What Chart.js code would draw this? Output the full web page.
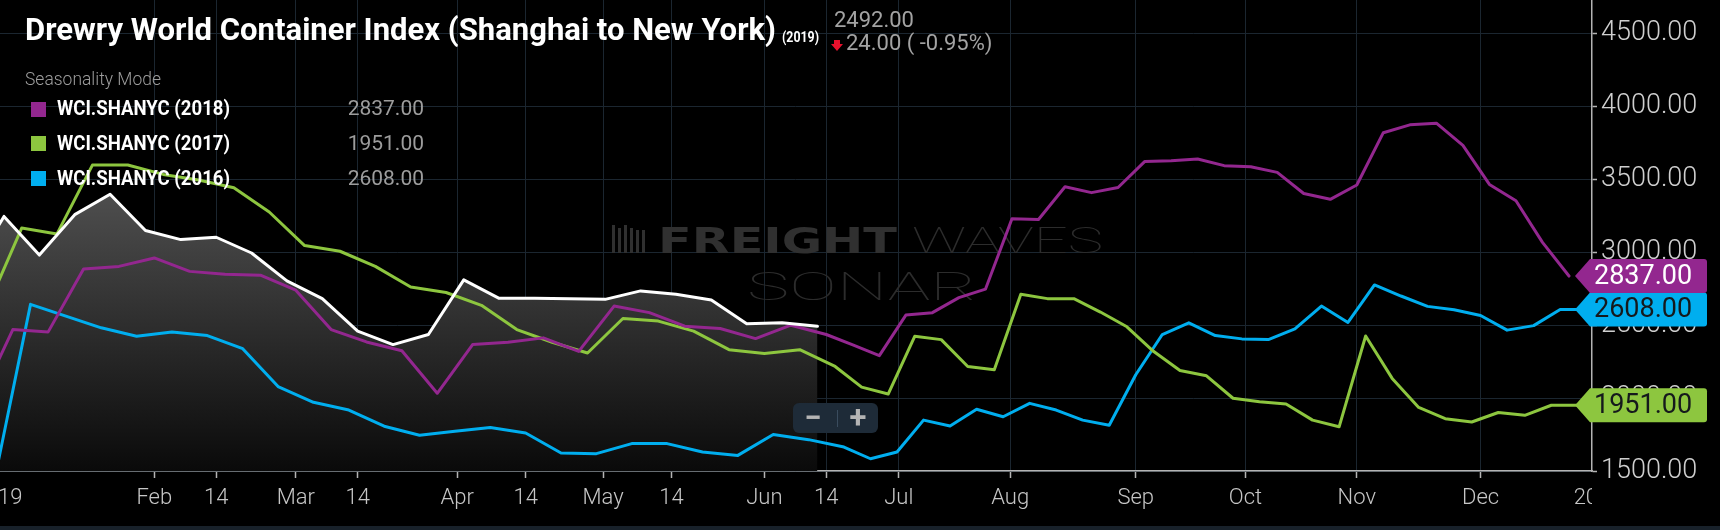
<!DOCTYPE html>
<html>
<head>
<meta charset="utf-8">
<script src="https://cdn.jsdelivr.net/npm/chart.js@4.4.1/dist/chart.umd.min.js"></script>
<style>
  html, body { margin: 0; padding: 0; background: #000; }
  #wrap { position: relative; width: 1720px; height: 530px; overflow: hidden; background: #000; }
  #c { position: absolute; left: 0; top: 0; }
  .txt { position: absolute; white-space: nowrap; line-height: 1; transform-origin: 0 0; font-family: Roboto, "Noto Sans", sans-serif; }
  .sw { position: absolute; width: 15px; height: 15px; }
  #zoom { position: absolute; left: 793px; top: 403px; width: 85px; height: 30px; background: #1e2b38; border-radius: 6px; }
  #zoom span { position: absolute; top: 0; width: 40px; text-align: center; color: #b4b4b4; font: 700 31px Roboto, sans-serif; line-height: 29px; }
  #zoom i { position: absolute; left: 44px; top: 7px; width: 1px; height: 17px; background: #3a4c5e; }
  #strip { position: absolute; left: 0; top: 526px; width: 1720px; height: 4px; background: #18212a; }
</style>
</head>
<body>
<div id="wrap">
  <canvas id="c" width="1720" height="530"></canvas>

  <div class="txt" data-x="25" data-b="40" data-fs="32" data-w="751" style="font-weight:700;color:#fff">Drewry World Container Index (Shanghai to New York)</div>
  <div class="txt" data-x="782" data-b="43" data-fs="15" data-w="37" style="font-weight:700;color:#fff">(2019)</div>
  <div class="txt" data-x="834" data-b="28" data-fs="22" style="color:#a3a3a3">2492.00</div>
  <svg style="position:absolute;left:831px;top:40px" width="12" height="11"><polygon points="3,0 9,0 9,4 12,4 6,11 0,4 3,4" fill="#e8112d"/></svg>
  <div class="txt" data-x="846" data-b="51" data-fs="22" style="color:#a3a3a3">24.00 ( -0.95%)</div>

  <div class="txt" data-x="25" data-b="86" data-fs="18.5" data-w="136" style="font-weight:300;color:#9d9d9d">Seasonality Mode</div>

  <div class="sw" style="left:31px;top:101.5px;background:#93278f"></div>
  <div class="txt" data-x="56.7" data-b="115.3" data-fs="21" data-w="173" style="font-weight:700;color:#fff">WCI.SHANYC (2018)</div>
  <div class="txt" data-r="424" data-b="115.3" data-fs="21" style="color:#9d9d9d">2837.00</div>

  <div class="sw" style="left:31px;top:136px;background:#8dc63f"></div>
  <div class="txt" data-x="56.7" data-b="150.2" data-fs="21" data-w="173" style="font-weight:700;color:#fff">WCI.SHANYC (2017)</div>
  <div class="txt" data-r="424" data-b="150.2" data-fs="21" style="color:#9d9d9d">1951.00</div>

  <div class="sw" style="left:31px;top:171px;background:#00aeef"></div>
  <div class="txt" data-x="56.7" data-b="185.2" data-fs="21" data-w="173" style="font-weight:700;color:#fff">WCI.SHANYC (2016)</div>
  <div class="txt" data-r="424" data-b="185.2" data-fs="21" style="color:#9d9d9d">2608.00</div>

  <div id="zoom"><span style="left:0">−</span><i></i><span style="left:45px">+</span></div>
  <div id="strip"></div>
</div>

<script>
// weekly WCI Shanghai -> New York, USD per 40ft, seasonality overlay on the 2019 calendar
// first entry of each series is the last release of the year before
const VAL_2019 = [2837,
  3246, 2981, 3258, 3398, 3149, 3087, 3103, 2995, 2804, 2682, 2459, 2367,
  2436, 2811, 2684, 2684, 2682, 2677, 2735, 2712, 2673, 2510, 2516, 2492];

const VAL_2018 = [1951,
  2470, 2454, 2885, 2903, 2961, 2869, 2850, 2843, 2740, 2470, 2385, 2325, 2033,
  2367, 2383, 2413, 2320, 2631, 2586, 2493, 2477, 2408, 2500, 2436, 2365, 2291,
  2569, 2586, 2689, 2747, 3230, 3225, 3449, 3409, 3444, 3622, 3628, 3640, 3594,
  3587, 3548, 3403, 3363, 3461, 3820, 3874, 3885, 3733, 3465, 3353, 3068, 2837];

const VAL_2017 = [2608,
  3166, 3126, 3598, 3598, 3534, 3495, 3442, 3276, 3046, 3007, 2903, 2762, 2724,
  2636, 2470, 2383, 2309, 2546, 2528, 2459, 2332, 2305, 2332, 2217, 2075, 2028,
  2424, 2401, 2217, 2194, 2712, 2682, 2682, 2590, 2489, 2321, 2189, 2153, 1999,
  1975, 1959, 1849, 1803, 2426, 2135, 1936, 1859, 1836, 1901, 1882, 1951, 1951];

const VAL_2016 = [1460,
  2643, 2562, 2482, 2424, 2454, 2429, 2339, 2079, 1971, 1918, 1807, 1745, 1773,
  1798, 1761, 1623, 1619, 1688, 1688, 1630, 1607, 1750, 1715, 1664, 1584, 1630,
  1849, 1809, 1923, 1872, 1964, 1918, 1849, 1814, 2160, 2436, 2516, 2429, 2406,
  2401, 2475, 2631, 2519, 2776, 2700, 2629, 2606, 2566, 2466, 2497, 2608, 2608];

// first release date of each series (y, m, d) and how many years it is shifted forward
const START_2019 = [2018, 12, 27, 0];
const START_2018 = [2017, 12, 28, 1];
const START_2017 = [2016, 12, 29, 2];
const START_2016 = [2015, 12, 31, 3];

const TICK_DATES = ['2019-01-01', '2019-02-01', '2019-02-14', '2019-03-01', '2019-03-14',
  '2019-04-01', '2019-04-14', '2019-05-01', '2019-05-14', '2019-06-01', '2019-06-14',
  '2019-07-01', '2019-08-01', '2019-09-01', '2019-10-01', '2019-11-01', '2019-12-01', '2020-01-01'];
const TICK_LABELS = ['2019', 'Feb', '14', 'Mar', '14', 'Apr', '14', 'May', '14', 'Jun', '14',
  'Jul', 'Aug', 'Sep', 'Oct', 'Nov', 'Dec', '2020'];

const Y_TICKS = [1500, 2000, 2500, 3000, 3500, 4000, 4500];

const PURPLE = '#93278f', GREEN = '#8dc63f', BLUE = '#00aeef';
const GRID = '#1b2630', AXIS = '#b4b4b4';

// ---- place the html texts by baseline
document.querySelectorAll('.txt').forEach((el) => {
  const fs = parseFloat(el.dataset.fs);
  el.style.fontSize = fs + 'px';
  el.style.top = (parseFloat(el.dataset.b) - 0.842 * fs) + 'px';
  const w = el.getBoundingClientRect().width;
  if (el.dataset.w) el.style.transform = 'scaleX(' + (parseFloat(el.dataset.w) / w) + ')';
  el.style.left = (el.dataset.r ? parseFloat(el.dataset.r) - w : parseFloat(el.dataset.x)) + 'px';
});

// ---- ordinal x axis: every release date of every series is one equally spaced slot
const DAY = 86400000;
function releases(start, n) {
  const [y, m, d, shift] = start;
  const out = [];
  for (let i = 0; i < n; i++) {
    const t = new Date(Date.UTC(y, m - 1, d + 7 * i));
    out.push(Date.UTC(t.getUTCFullYear() + shift, t.getUTCMonth(), t.getUTCDate()));
  }
  return out;
}
const D2019 = releases(START_2019, VAL_2019.length);
const D2018 = releases(START_2018, VAL_2018.length);
const D2017 = releases(START_2017, VAL_2017.length);
const D2016 = releases(START_2016, VAL_2016.length);

const UNION = [...new Set([...D2019, ...D2018, ...D2017, ...D2016])].sort((a, b) => a - b);
const SLOT = new Map(UNION.map((t, i) => [t, i]));

function slotOfDate(t) {
  const n = UNION.length;
  if (t <= UNION[0]) {
    const per = UNION.filter((u) => u < UNION[0] + 7 * DAY).length;
    return (t - UNION[0]) / (7 * DAY) * per;
  }
  if (t >= UNION[n - 1]) {
    const per = UNION.filter((u) => u > UNION[n - 1] - 7 * DAY).length;
    return n - 1 + (t - UNION[n - 1]) / (7 * DAY) * per;
  }
  let i = 0;
  while (UNION[i + 1] <= t) i++;
  return i + (t - UNION[i]) / (UNION[i + 1] - UNION[i]);
}
const TICK_SLOTS = TICK_DATES.map((s) => slotOfDate(Date.parse(s + 'T00:00:00Z')));

const pts = (dates, vals) => vals.map((v, i) => ({ x: SLOT.get(dates[i]), y: v }));

// ---- plugins
function fitText(ctx, s, font, x, base, w) {
  ctx.font = font;
  const k = w / ctx.measureText(s).width;
  ctx.save();
  ctx.translate(x, base);
  ctx.scale(k, 1);
  ctx.fillText(s, 0, 0);
  ctx.restore();
}

const watermark = {
  id: 'watermark',
  beforeDatasetsDraw(chart) {
    const ctx = chart.ctx;
    ctx.save();
    ctx.fillStyle = '#303030';
    [0, 6, 12, 18, 24, 30].forEach((dx, i) => {
      const cut = i > 3 ? 5 : (i % 2 ? 3 : 0);
      ctx.fillRect(612 + dx, 225 + cut, 3, 28 - cut);
    });
    fitText(ctx, 'FREIGHT', '700 35px "DejaVu Sans"', 658, 253, 239);
    ctx.fillStyle = '#2c2c2c';
    fitText(ctx, 'WAVES', '100 36px Roboto', 912, 253, 191);
    fitText(ctx, 'SONAR', '100 38px Roboto', 747, 300, 230);
    ctx.restore();
  },
};

const xLabels = {
  id: 'xLabels',
  afterDraw(chart) {
    const { ctx, chartArea, scales } = chart;
    ctx.save();
    ctx.beginPath();
    ctx.rect(0, chartArea.bottom, chartArea.right, chart.height - chartArea.bottom);
    ctx.clip();
    ctx.font = '300 22px Roboto';
    ctx.fillStyle = '#c6c6c6';
    ctx.textAlign = 'center';
    ctx.textBaseline = 'alphabetic';
    TICK_SLOTS.forEach((v, i) => ctx.fillText(TICK_LABELS[i], scales.x.getPixelForValue(v), 504));
    ctx.restore();
  },
};

const flags = {
  id: 'flags',
  afterDraw(chart) {
    const { ctx, scales } = chart;
    const order = [2, 1, 0]; // 2016, 2017, then 2018 on top
    order.forEach((di) => {
      const ds = chart.data.datasets[di + 1];
      const v = ds.data[ds.data.length - 1].y;
      const y = scales.y.getPixelForValue(v);
      const h = 17, x0 = 1575, x1 = 1590, x2 = 1707, r = 3;
      ctx.save();
      ctx.fillStyle = ds.borderColor;
      ctx.beginPath();
      ctx.moveTo(x0, y);
      ctx.lineTo(x1, y - h);
      ctx.lineTo(x2 - r, y - h);
      ctx.quadraticCurveTo(x2, y - h, x2, y - h + r);
      ctx.lineTo(x2, y + h - r);
      ctx.quadraticCurveTo(x2, y + h, x2 - r, y + h);
      ctx.lineTo(x1, y + h);
      ctx.closePath();
      ctx.fill();
      ctx.font = '400 27px Roboto';
      ctx.fillStyle = di === 0 ? '#ffffff' : '#15191c';
      ctx.textAlign = 'left';
      ctx.textBaseline = 'middle';
      ctx.fillText(v.toFixed(2), 1594, y + 1);
      ctx.restore();
    });
  },
};

// ---- chart
const line = (label, data, color, extra) => Object.assign({
  label, data, borderColor: color, borderWidth: 3, pointRadius: 0, pointHoverRadius: 0,
  tension: 0, fill: false, borderJoinStyle: 'round', borderCapStyle: 'round', clip: 0,
}, extra || {});

new Chart(document.getElementById('c'), {
  type: 'line',
  data: {
    datasets: [
      line('WCI.SHANYC (2019)', pts(D2019, VAL_2019), '#ffffff', {
        fill: 'start',
        backgroundColor: (c) => {
          const { ctx, chartArea } = c.chart;
          if (!chartArea) return 'rgba(0,0,0,0)';
          const g = ctx.createLinearGradient(0, 190, 0, chartArea.bottom);
          g.addColorStop(0, '#4f4f4f');
          g.addColorStop(1, '#0a0a0a');
          return g;
        },
      }),
      line('WCI.SHANYC (2018)', pts(D2018, VAL_2018), PURPLE),
      line('WCI.SHANYC (2017)', pts(D2017, VAL_2017), GREEN),
      line('WCI.SHANYC (2016)', pts(D2016, VAL_2016), BLUE),
    ],
  },
  options: {
    responsive: false,
    devicePixelRatio: 1,
    animation: false,
    layout: { padding: 0 },
    plugins: {
      legend: { display: false },
      tooltip: { enabled: false },
      filler: { drawTime: 'beforeDatasetsDraw' },
    },
    scales: {
      x: {
        type: 'linear',
        min: 3.55,
        max: 183.6,
        grid: { color: GRID, lineWidth: 1, tickLength: 7, tickColor: AXIS, tickWidth: 1.5 },
        border: { color: AXIS, width: 1.5 },
        ticks: { display: false },
        afterBuildTicks: (s) => {
          s.ticks = TICK_SLOTS.filter((v) => v >= s.min && v <= s.max).map((v) => ({ value: v }));
        },
        afterFit: (s) => { s.height = 59; s.paddingLeft = 0; s.paddingRight = 0; },
      },
      y: {
        position: 'right',
        min: 1500,
        max: 4730,
        grid: { color: GRID, lineWidth: 1, tickLength: 5, tickColor: AXIS, tickWidth: 1.5 },
        border: { color: AXIS, width: 1.5 },
        ticks: {
          includeBounds: false,
          padding: 4,
          color: '#cfcfcf',
          font: { family: 'Roboto', size: 27, weight: '300' },
          callback: (v) => Number(v).toFixed(2),
        },
        afterBuildTicks: (s) => { s.ticks = Y_TICKS.map((v) => ({ value: v })); },
        afterFit: (s) => { s.width = 128; s.paddingTop = 0; s.paddingBottom = 0; },
      },
    },
  },
  plugins: [watermark, xLabels, flags],
});
</script>
</body>
</html>
